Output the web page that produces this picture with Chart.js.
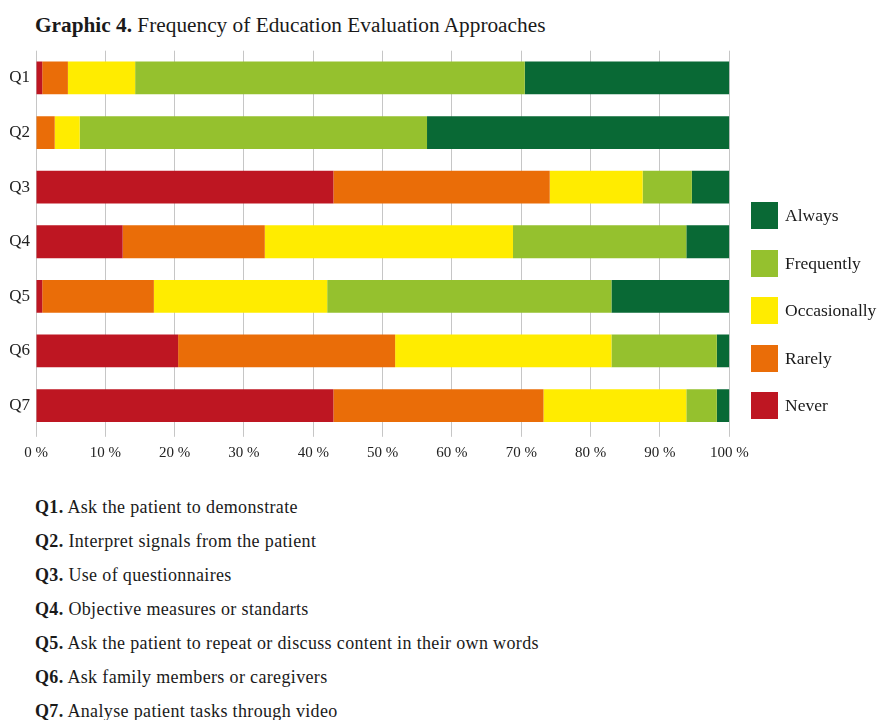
<!DOCTYPE html>
<html lang="en">
<head>
    <meta charset="UTF-8">
    <title>Frequency of Education Evaluation Approaches</title>
    <script src="https://cdn.jsdelivr.net/npm/chart.js@4/dist/chart.umd.min.js"></script>
    <style>
        body { margin: 0; width: 878px; height: 720px; background: #fff; position: relative; overflow: hidden;
               font-family: "Liberation Serif", "DejaVu Serif", serif; color: #1a1a1a; }
        .title { position: absolute; left: 35px; top: 13px; font-size: 21.3px; white-space: nowrap; }
        .chart-box { position: absolute; left: 0; top: 40px; width: 760px; height: 430px; }
        #legend ul { list-style: none; margin: 0; padding: 0; position: absolute; left: 751px; top: 202px; }
        #legend li { display: flex; align-items: center; height: 27px; margin-bottom: 20.6px; font-size: 17.5px; }
        #legend li span { display: inline-block; width: 27px; height: 27px; margin-right: 7px; }
        .questions { position: absolute; left: 35px; top: 490px; font-size: 18px; letter-spacing: 0.35px; line-height: 34px; }
        .questions div { white-space: nowrap; }
    </style>
</head>
<body>
    <div class="title"><b>Graphic 4.</b> Frequency of Education Evaluation Approaches</div>

    <div class="chart-box">
        <canvas id="evalChart"></canvas>
    </div>
    <div id="legend"></div>

    <div class="questions">
        <div><b>Q1.</b> Ask the patient to demonstrate</div>
        <div><b>Q2.</b> Interpret signals from the patient</div>
        <div><b>Q3.</b> Use of questionnaires</div>
        <div><b>Q4.</b> Objective measures or standarts</div>
        <div><b>Q5.</b> Ask the patient to repeat or discuss content in their own words</div>
        <div><b>Q6.</b> Ask family members or caregivers</div>
        <div><b>Q7.</b> Analyse patient tasks through video</div>
    </div>

    <script>
        // share of answers per question, in %
        const questions = ['Q1', 'Q2', 'Q3', 'Q4', 'Q5', 'Q6', 'Q7'];
        const never        = [0.9, 0,    42.9, 12.5, 0.9,  20.5, 42.9];
        const rarely       = [3.7, 2.7,  31.2, 20.5, 16.1, 31.3, 30.3];
        const occasionally = [9.7, 3.6,  13.4, 35.8, 25.0, 31.2, 20.6];
        const frequently   = [56.2, 50.1, 7.1, 25.0, 41.0, 15.2, 4.4];
        const always       = [29.5, 43.6, 5.4, 6.2,  17.0, 1.8,  1.8];
        const xTicks = [0, 10, 20, 30, 40, 50, 60, 70, 80, 90, 100];

        const serif = '"Liberation Serif", "DejaVu Serif", serif';
        const gridGray = '#c6c6c6';

        // legend drawn as html list next to the chart
        const htmlLegend = {
            id: 'htmlLegend',
            afterUpdate(chart) {
                const box = document.getElementById('legend');
                box.innerHTML = '';
                const ul = document.createElement('ul');
                const items = chart.options.plugins.legend.labels.generateLabels(chart).reverse();
                items.forEach(item => {
                    const li = document.createElement('li');
                    const sw = document.createElement('span');
                    sw.style.background = item.fillStyle;
                    li.appendChild(sw);
                    li.appendChild(document.createTextNode(item.text));
                    ul.appendChild(li);
                });
                box.appendChild(ul);
            }
        };

        const ctx = document.getElementById('evalChart').getContext('2d');
        const evalChart = new Chart(ctx, {
            type: 'bar',
            data: {
                labels: questions,
                datasets: [
                    { label: 'Never', data: never, backgroundColor: '#be1622' },
                    { label: 'Rarely', data: rarely, backgroundColor: '#ea6d08' },
                    { label: 'Occasionally', data: occasionally, backgroundColor: '#ffec00' },
                    { label: 'Frequently', data: frequently, backgroundColor: '#95c12e' },
                    { label: 'Always', data: always, backgroundColor: '#096935' }
                ]
            },
            options: {
                indexAxis: 'y',
                responsive: true,
                maintainAspectRatio: false,
                animation: false,
                layout: { padding: { top: 10.7, right: 30.7, left: 0, bottom: 0 } },
                datasets: { bar: { categoryPercentage: 1, barPercentage: 0.6, borderWidth: 0 } },
                plugins: {
                    legend: { display: false },
                    tooltip: { enabled: false }
                },
                scales: {
                    x: {
                        stacked: true,
                        min: 0,
                        max: 100,
                        afterBuildTicks: scale => { scale.ticks = xTicks.map(v => ({ value: v })); },
                        afterFit: scale => { scale.paddingLeft = 0; scale.paddingRight = 0; scale.height = 37.2; },
                        grid: { color: gridGray, lineWidth: 1, tickLength: 4, drawTicks: true },
                        border: { display: false },
                        ticks: {
                            padding: 7,
                            color: '#222',
                            maxRotation: 0,
                            font: { family: serif, size: 15 },
                            callback: v => v + ' %'
                        }
                    },
                    y: {
                        stacked: true,
                        afterFit: scale => { scale.width = 36; scale.paddingTop = 0; scale.paddingBottom = 0; },
                        grid: { display: false, drawTicks: false },
                        border: { display: false },
                        ticks: {
                            padding: 6,
                            color: '#222',
                            font: { family: serif, size: 17 }
                        }
                    }
                }
            },
            plugins: [htmlLegend]
        });
    </script>
</body>
</html>
